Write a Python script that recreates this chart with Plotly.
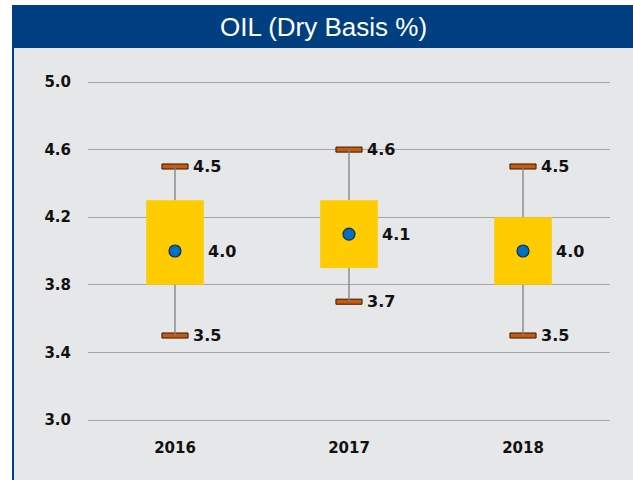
import plotly.graph_objects as go

years = ["2016", "2017", "2018"]
whisker_low = [3.5, 3.7, 3.5]
box_low = [3.8, 3.9, 3.8]
means = [4.0, 4.1, 4.0]
box_high = [4.3, 4.3, 4.2]
whisker_high = [4.5, 4.6, 4.5]
y_ticks = [3.0, 3.4, 3.8, 4.2, 4.6, 5.0]

xs = list(range(len(years)))
W, H = 633, 480
L, R, T, B = 88, 23, 79, 57
pw, ph = W - L - R, H - T - B
unit = 169.0  # pixels per 1.0 on the y axis
y_lo = 3.0 - (H - B - 420) / unit
y_hi = 5.0 + (82 - T) / unit

def px(x):
    return (x - L) / pw

def py(y):
    return (H - B - y) / ph

fig = go.Figure()

# whisker lines (outside the boxes)
wx, wy = [], []
for i in xs:
    wx += [i, i, None, i, i, None]
    wy += [whisker_low[i], box_low[i], None, box_high[i], whisker_high[i], None]
fig.add_trace(go.Scatter(x=wx, y=wy, mode="lines", line=dict(color="#7f7f7f", width=1.3),
                         hoverinfo="skip", showlegend=False))

# boxes
fig.add_trace(go.Bar(x=xs, y=[h - l for h, l in zip(box_high, box_low)], base=box_low,
                     width=0.331, marker=dict(color="#ffcc00", line=dict(width=0)),
                     showlegend=False))

# caps
cap_h = 0.03
for arr in (whisker_low, whisker_high):
    fig.add_trace(go.Bar(x=xs, y=[cap_h] * len(xs), base=[v - cap_h / 2 for v in arr],
                         width=0.15, marker=dict(color="#c55a11", line=dict(color="#3a1a05", width=1)),
                         showlegend=False))

# means
fig.add_trace(go.Scatter(x=xs, y=means, mode="markers",
                         marker=dict(size=12, color="#0070c0", line=dict(color="#1a2a4a", width=1.2)),
                         showlegend=False))

lab_font = dict(family="DejaVu Sans", size=16, color="#111111", weight="bold")
for i in xs:
    for v, sh in ((whisker_low[i], 16), (whisker_high[i], 16), (means[i], 31)):
        fig.add_annotation(x=i, y=v, text=f"{v:.1f}", showarrow=False, xanchor="left",
                           yanchor="middle", xshift=sh, font=lab_font)

shapes = [
    dict(type="rect", xref="paper", yref="paper", x0=px(14), x1=px(640), y0=py(48), y1=py(490),
         fillcolor="#e6e7e8", line=dict(width=0), layer="below"),
    dict(type="rect", xref="paper", yref="paper", x0=px(12), x1=px(640), y0=py(48), y1=py(5),
         fillcolor="#003f7f", line=dict(width=0), layer="below"),
    dict(type="rect", xref="paper", yref="paper", x0=px(12), x1=px(14), y0=py(490), y1=py(5),
         fillcolor="#003f7f", line=dict(width=0), layer="below"),
]

fig.add_annotation(xref="paper", yref="paper", x=px(323.5), y=py(27), text="OIL (Dry Basis %)",
                   showarrow=False, xanchor="center", yanchor="middle",
                   font=dict(family="Liberation Sans", size=26, color="white"))

fig.update_layout(
    width=W, height=H, margin=dict(l=L, r=R, t=T, b=B),
    paper_bgcolor="white", plot_bgcolor="#e6e7e8",
    barmode="overlay", shapes=shapes, showlegend=False,
    xaxis=dict(range=[-0.5, 2.5], tickvals=xs, ticktext=years, showgrid=False, zeroline=False,
               showline=False, ticks="", ticklabelstandoff=14,
               tickfont=dict(family="DejaVu Sans", size=15, color="#111111", weight="bold")),
    yaxis=dict(range=[y_lo, y_hi], tickvals=y_ticks, ticktext=[f"{v:.1f}" for v in y_ticks],
               showgrid=True, gridcolor="#a6a6a6", gridwidth=1, zeroline=False, showline=False,
               ticks="", ticklabelstandoff=16,
               tickfont=dict(family="DejaVu Sans", size=15, color="#111111", weight="bold")),
)

fig.write_html("out.html", config={"displayModeBar": False},
               post_script="document.body.style.margin='0';document.body.style.overflow='hidden';")
